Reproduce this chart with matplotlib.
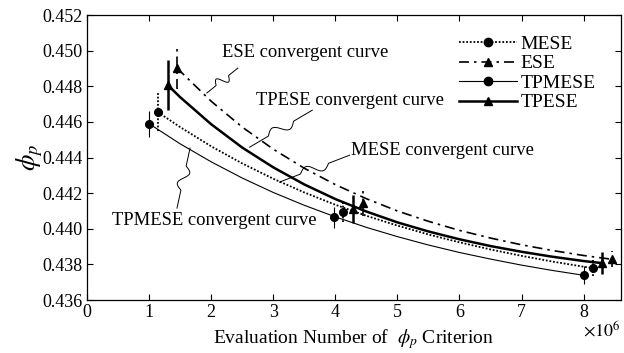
import numpy as np
import matplotlib
matplotlib.use("Agg")
import matplotlib.pyplot as plt
from matplotlib.lines import Line2D

plt.rcParams.update({
    "font.family": ["Liberation Serif", "DejaVu Serif"],
    "mathtext.fontset": "stix",
    "font.size": 13,
})

# measured points (x in 1e6 evaluations), with error half-widths
mese_x = [1.14, 4.13, 8.15]
mese_y = [0.44655, 0.44093, 0.43779]
mese_err = [0.00107, 0.00056, 0.00045]

ese_x = [1.45, 4.44, 8.45]
ese_y = [0.44902, 0.44144, 0.43829]
ese_err = [0.0012, 0.0007, 0.00045]

tpmese_x = [1.0, 3.98, 8.0]
tpmese_y = [0.44588, 0.44065, 0.43739]
tpmese_err = [0.00073, 0.0006, 0.0005]

tpese_x = [1.3, 4.28, 8.3]
tpese_y = [0.44807, 0.44110, 0.43807]
tpese_err = [0.0014, 0.0008, 0.0006]

# convergent curves
tpmese_cx = [1.0, 1.5, 2.0, 2.5, 3.0, 3.5, 4.0, 4.5, 5.0, 5.5, 6.0, 6.5, 7.0, 7.5, 8.0]
tpmese_cy = [0.44590, 0.44477, 0.44376, 0.44285, 0.44204, 0.44132, 0.44067, 0.44008,
             0.43956, 0.43909, 0.43867, 0.43830, 0.43796, 0.43766, 0.43739]

mese_cx = [1.14, 1.5, 2.0, 2.5, 3.0, 3.5, 4.0, 4.5, 5.0, 5.5, 6.0, 6.5, 7.0, 7.5, 8.0, 8.15]
mese_cy = [0.44655, 0.44571, 0.44463, 0.44367, 0.44281, 0.44204, 0.44135, 0.44073,
           0.44018, 0.43968, 0.43924, 0.43884, 0.43848, 0.43816, 0.43787, 0.43779]

tpese_cx = [1.3, 1.5, 2.0, 2.5, 3.0, 3.5, 4.0, 4.5, 5.0, 5.5, 6.0, 6.5, 7.0, 7.5, 8.0, 8.3]
tpese_cy = [0.44807, 0.44739, 0.44587, 0.44456, 0.44345, 0.44249, 0.44167, 0.44097,
            0.44036, 0.43985, 0.43941, 0.43903, 0.43871, 0.43843, 0.43819, 0.43807]

ese_cx = [1.45, 2.0, 2.5, 3.0, 3.5, 4.0, 4.5, 5.0, 5.5, 6.0, 6.5, 7.0, 7.5, 8.0, 8.45]
ese_cy = [0.44902, 0.44716, 0.44571, 0.44447, 0.44340, 0.44248, 0.44169, 0.44100,
          0.44042, 0.43991, 0.43948, 0.43910, 0.43878, 0.43850, 0.43829]

x_ticks = [0, 1, 2, 3, 4, 5, 6, 7, 8]
y_ticks = [0.436, 0.438, 0.440, 0.442, 0.444, 0.446, 0.448, 0.450, 0.452]

fig = plt.figure(figsize=(6.24, 3.53), dpi=100)
ax = fig.add_axes([0.1394, 0.150, 0.8556, 0.8075])

styles = {
    "MESE": dict(ls=(0, (1, 1)), lw=1.3, marker="o"),
    "ESE": dict(ls=(0, (6, 3, 1.5, 3)), lw=1.2, marker="^"),
    "TPMESE": dict(ls="-", lw=0.8, marker="o"),
    "TPESE": dict(ls="-", lw=1.8, marker="^"),
}

series = [
    ("MESE", mese_x, mese_y, mese_err, mese_cx, mese_cy),
    ("ESE", ese_x, ese_y, ese_err, ese_cx, ese_cy),
    ("TPMESE", tpmese_x, tpmese_y, tpmese_err, tpmese_cx, tpmese_cy),
    ("TPESE", tpese_x, tpese_y, tpese_err, tpese_cx, tpese_cy),
]

handles = []
for name, px, py, pe, cx, cy in series:
    st = styles[name]
    ax.plot(cx, cy, color="black", linestyle=st["ls"], linewidth=st["lw"])
    ax.vlines(px, np.array(py) - np.array(pe), np.array(py) + np.array(pe),
              colors="black", linestyles=[st["ls"]], linewidth=st["lw"])
    ax.plot(px, py, linestyle="none", marker=st["marker"], color="black", markersize=5.5)
    handles.append(Line2D([], [], color="black", linestyle=st["ls"], linewidth=st["lw"],
                          marker=st["marker"], markersize=6, label=name))

ax.set_xlim(0, 8.6)
ax.set_ylim(0.436, 0.452)
ax.set_xticks(x_ticks)
ax.set_yticks(y_ticks)
ax.set_yticklabels([f"{v:.3f}" for v in y_ticks])
ax.tick_params(direction="in", top=True, right=True, length=4, width=0.8, labelsize=13, pad=3)
for s in ax.spines.values():
    s.set_linewidth(0.9)

ax.set_xlabel(r"Evaluation Number of  $\phi_p$ Criterion", fontsize=14, labelpad=4)
ax.set_ylabel(r"$\phi_p$", fontsize=19, labelpad=-2)
ax.text(1.0, -0.105, r"$\times 10^6$", transform=ax.transAxes, ha="right", va="center", fontsize=13)

leg = ax.legend(handles=handles, loc="upper right", bbox_to_anchor=(0.975, 0.97), frameon=False,
                fontsize=14, handlelength=3.0, handletextpad=0.2, labelspacing=0.1,
                borderaxespad=0.2)


def squiggle(x0, y0, x1, y1, amp=5.0):
    # leader line with a small S-shaped break, built in pixel space
    p0 = ax.transData.transform((x0, y0))
    p1 = ax.transData.transform((x1, y1))
    t = np.linspace(0, 1, 120)
    d = p1 - p0
    n = np.array([-d[1], d[0]]) / np.hypot(*d)
    off = np.where((t > 0.3) & (t < 0.7), amp * np.sin(2 * np.pi * (t - 0.3) / 0.4), 0.0)
    pts = p0[None, :] + t[:, None] * d[None, :] + off[:, None] * n[None, :]
    data = ax.transData.inverted().transform(pts)
    ax.plot(data[:, 0], data[:, 1], color="black", linewidth=0.7)


note_size = 13.4
ax.text(2.17, 0.44987, "ESE convergent curve", ha="left", va="center", fontsize=note_size)
squiggle(2.43, 0.44902, 1.93, 0.44762)

ax.text(2.73, 0.44722, "TPESE convergent curve", ha="left", va="center", fontsize=note_size)
squiggle(3.63, 0.44666, 2.62, 0.44458)

ax.text(4.26, 0.44442, "MESE convergent curve", ha="left", va="center", fontsize=note_size)
squiggle(4.23, 0.44413, 3.10, 0.44262)

ax.text(0.40, 0.44048, "TPMESE convergent curve", ha="left", va="center", fontsize=note_size)
squiggle(1.45, 0.44116, 1.66, 0.44453)

fig.savefig("out.png", dpi=100)
